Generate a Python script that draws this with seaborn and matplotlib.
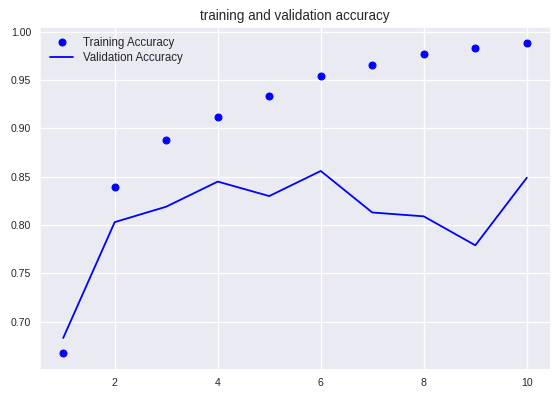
import seaborn as sns
import matplotlib.pyplot as plt

epochs = [1, 2, 3, 4, 5, 6, 7, 8, 9, 10]
train_acc = [0.667, 0.839, 0.888, 0.912, 0.934, 0.954, 0.966, 0.977, 0.983, 0.989]
val_acc = [0.683, 0.803, 0.819, 0.845, 0.830, 0.856, 0.813, 0.809, 0.779, 0.849]

sns.set_style('darkgrid')
plt.rcParams['font.family'] = ['Liberation Sans', 'DejaVu Sans']
plt.rcParams['grid.linewidth'] = 1.3

fig = plt.figure(figsize=(554 / 72, 397 / 72), dpi=72)
ax = fig.add_axes([40 / 554, 1 - 369 / 397, 510 / 554, 342 / 397])

ax.plot(epochs, train_acc, 'bo', markersize=7, label='Training Accuracy')
sns.lineplot(x=epochs, y=val_acc, color='b', linewidth=1.8, label='Validation Accuracy', ax=ax)

ax.set_title('training and validation accuracy', fontsize=13.5, color='0.15', pad=7)
ax.tick_params(labelsize=10.5, colors='0.15', length=0, pad=9)
ax.legend(loc='upper left', fontsize=11.5, frameon=False, labelspacing=0.2)

fig.savefig('out.png', dpi=72)
